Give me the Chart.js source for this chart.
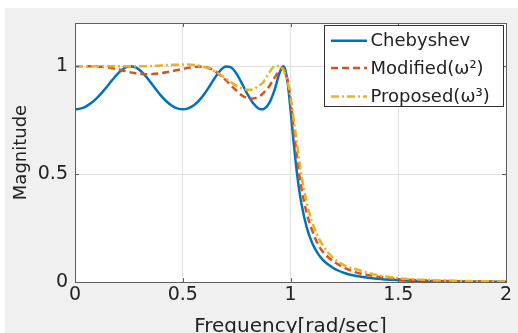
<!DOCTYPE html>
<html>
<head>
<meta charset="utf-8">
<script src="https://cdn.jsdelivr.net/npm/chart.js@4/dist/chart.umd.min.js"></script>
<style>
  html, body { margin: 0; padding: 0; background: #ffffff; }
  #wrap { width: 518px; height: 333px; position: relative; }
</style>
</head>
<body>
<div id="wrap"><canvas id="c" width="518" height="333"></canvas></div>
<script>
// ---- data ----
const freq = [0,0.025,0.05,0.075,0.1,0.125,0.15,0.175,0.2,0.225,0.25,0.275,0.3,0.325,0.35,0.375,0.4,0.425,0.45,0.475,0.5,0.525,0.55,0.575,0.6,0.625,0.65,0.675,0.7,0.725,0.75,0.775,0.8,0.825,0.85,
  0.866,0.875,0.9,0.925,0.95,0.966,0.975,0.9875,1.0,
  1.0125,1.025,1.0375,1.05,1.075,1.1,1.125,1.15,1.2,1.25,1.3,1.4,1.5,1.6,1.8,2.0];
const chebyshev = [0.8,0.8032,0.8129,0.8288,0.8504,0.8771,0.907,0.938,0.9664,0.9881,0.9992,0.9972,0.9822,0.9572,0.926,0.8933,0.8625,0.8364,0.8166,0.8042,0.8,0.8043,0.8177,0.8402,0.871,0.9083,0.9475,0.981,0.999,0.9935,0.9641,0.9193,0.871,0.8303,0.8051,
  0.8,0.8014,0.8269,0.8869,0.971,1.0,0.9862,0.9165,0.8,
  0.6683,0.5473,0.4468,0.3667,0.2537,0.1822,0.1353,0.103,0.0635,0.0416,0.0285,0.0147,0.0083,0.005,0.0021,0.001];
const modified = [1.0,1.0,1.0,1.0,0.999,0.997,0.994,0.99,0.985,0.979,0.973,0.968,0.965,0.963,0.963,0.965,0.968,0.972,0.977,0.982,0.987,0.992,0.996,0.998,0.997,0.99,0.976,0.957,0.935,0.91,0.886,0.864,0.852,0.85,0.858,
  0.868,0.876,0.905,0.945,0.982,0.99,0.975,0.93,0.85,
  0.73,0.62,0.52,0.44,0.32,0.24,0.18,0.14,0.095,0.066,0.046,0.025,0.013,0.008,0.003,0.0015];
const proposed = [1,1,1,1,1,1,1,1,1,1,1,1,1,1.0,1.001,1.002,1.003,1.005,1.006,1.007,1.008,1.008,1.006,1.002,0.996,0.988,0.976,0.96,0.943,0.925,0.909,0.897,0.891,0.892,0.908,
  0.918,0.928,0.968,0.998,1.0,0.985,0.965,0.925,0.86,
  0.77,0.68,0.585,0.5,0.37,0.28,0.215,0.17,0.11,0.077,0.06,0.033,0.018,0.011,0.005,0.002];
const seriesNames = ['Chebyshev', 'Modified(ω²)', 'Proposed(ω³)'];
const xTicks = [0, 0.5, 1, 1.5, 2];
const yTicks = [0, 0.5, 1];
const xTitle = 'Frequency[rad/sec]';
const yTitle = 'Magnitude';

const FONT = "'DejaVu Sans', sans-serif";
const TEXT = '#222222';

function pts(ys) { return freq.map((x, i) => ({ x: x, y: ys[i] })); }

const bgPlugin = {
  id: 'bg',
  beforeDraw(chart) {
    const { ctx, chartArea: a } = chart;
    ctx.save();
    ctx.fillStyle = '#ffffff';
    ctx.fillRect(0, 0, chart.width, chart.height);
    ctx.fillStyle = '#f0f0f0';
    ctx.fillRect(5, 8, chart.width - 5, chart.height - 8);
    ctx.fillStyle = '#ffffff';
    ctx.fillRect(a.left, a.top, a.right - a.left, a.bottom - a.top);
    ctx.restore();
  }
};

const boxPlugin = {
  id: 'box',
  afterDatasetsDraw(chart) {
    const { ctx, chartArea: a, scales } = chart;
    ctx.save();
    ctx.strokeStyle = '#5f5f5f';
    ctx.lineWidth = 1;
    ctx.strokeRect(Math.round(a.left) + 0.5, Math.round(a.top) + 0.5,
      Math.round(a.right - a.left), Math.round(a.bottom - a.top));
    ctx.beginPath();
    xTicks.forEach(v => {
      const px = Math.round(scales.x.getPixelForValue(v)) + 0.5;
      ctx.moveTo(px, a.bottom); ctx.lineTo(px, a.bottom - 4);
      ctx.moveTo(px, a.top); ctx.lineTo(px, a.top + 4);
    });
    yTicks.forEach(v => {
      const py = Math.round(scales.y.getPixelForValue(v)) + 0.5;
      ctx.moveTo(a.left, py); ctx.lineTo(a.left + 4, py);
      ctx.moveTo(a.right, py); ctx.lineTo(a.right - 4, py);
    });
    ctx.stroke();
    ctx.restore();
  }
};

const legendPlugin = {
  id: 'customLegend',
  afterDraw(chart) {
    const { ctx } = chart;
    const bx = 324.5, by = 25.5, bw = 179, bh = 81;
    ctx.save();
    ctx.fillStyle = '#ffffff';
    ctx.fillRect(bx, by, bw, bh);
    ctx.strokeStyle = '#303030';
    ctx.lineWidth = 1;
    ctx.strokeRect(bx, by, bw, bh);
    const rows = [40.7, 68, 96.5];
    chart.data.datasets.forEach((ds, i) => {
      const y = rows[i];
      ctx.beginPath();
      ctx.strokeStyle = ds.borderColor;
      ctx.lineWidth = ds.borderWidth;
      ctx.setLineDash(ds.borderDash || []);
      ctx.moveTo(331, y); ctx.lineTo(367, y);
      ctx.stroke();
      ctx.setLineDash([]);
      ctx.fillStyle = TEXT;
      ctx.font = "18px " + FONT;
      ctx.textBaseline = 'middle';
      ctx.textAlign = 'left';
      ctx.fillText(ds.label, 370.5, y + 1);
    });
    ctx.restore();
  }
};

const chart = new Chart(document.getElementById('c'), {
  type: 'line',
  data: {
    datasets: [
      { label: seriesNames[0], data: pts(chebyshev), borderColor: '#0072BD', borderWidth: 2.5, order: 2 },
      { label: seriesNames[1], data: pts(modified), borderColor: '#D95319', borderWidth: 2.5, borderDash: [7, 4], order: 1 },
      { label: seriesNames[2], data: pts(proposed), borderColor: '#EDB120', borderWidth: 2.5, borderDash: [8, 3, 2, 3], order: 0 }
    ]
  },
  options: {
    responsive: false,
    animation: false,
    devicePixelRatio: 1,
    layout: { padding: { left: 0, top: 23, right: 12, bottom: 0 } },
    elements: {
      point: { radius: 0 },
      line: { cubicInterpolationMode: 'monotone', fill: false }
    },
    plugins: { legend: { display: false }, tooltip: { enabled: false } },
    scales: {
      x: {
        type: 'linear', min: 0, max: 2,
        afterBuildTicks: s => { s.ticks = xTicks.map(v => ({ value: v })); },
        afterFit: s => { s.height = 51; },
        grid: { color: '#e2e2e2', drawTicks: false, lineWidth: 1 },
        border: { display: false },
        ticks: { color: TEXT, font: { family: FONT, size: 19 }, padding: 2, maxRotation: 0,
                 callback: v => String(v) },
        title: { display: true, text: xTitle, color: TEXT,
                 font: { family: FONT, size: 20, lineHeight: 1 }, padding: { top: 0, bottom: -4 } }
      },
      y: {
        type: 'linear', min: 0, max: 1.2,
        afterBuildTicks: s => { s.ticks = yTicks.map(v => ({ value: v })); },
        afterFit: s => { s.width = 75; },
        grid: { color: '#e2e2e2', drawTicks: false, lineWidth: 1 },
        border: { display: false },
        ticks: { color: TEXT, font: { family: FONT, size: 19 }, padding: 7,
                 callback: v => String(v) },
        title: { display: true, text: yTitle, color: TEXT,
                 font: { family: FONT, size: 18, lineHeight: 1 }, padding: { top: 12, bottom: 0 } }
      }
    }
  },
  plugins: [bgPlugin, boxPlugin, legendPlugin]
});
</script>
</body>
</html>
